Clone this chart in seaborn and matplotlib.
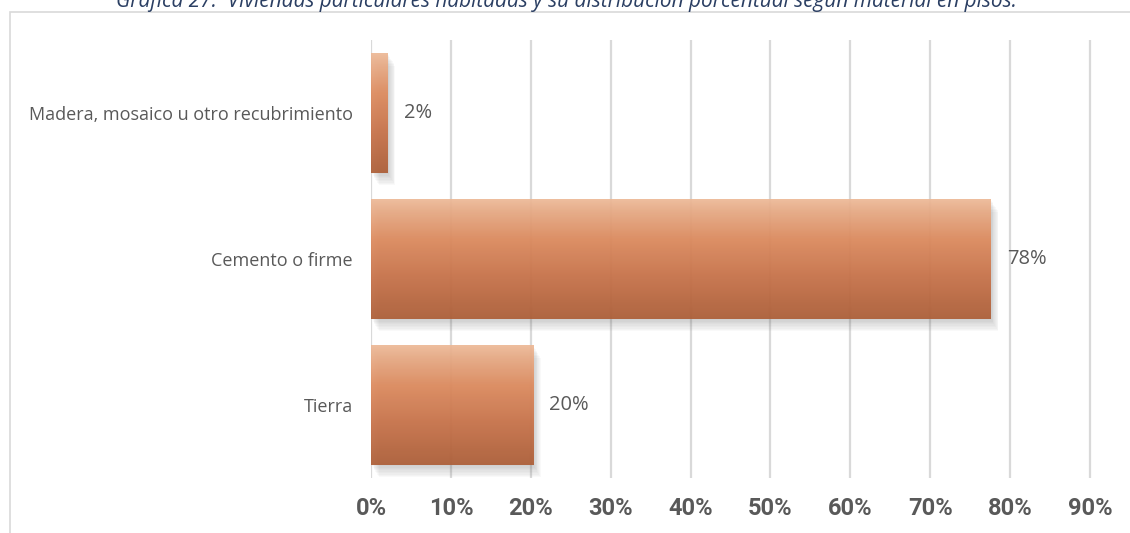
import numpy as np
import matplotlib
matplotlib.use("Agg")
import matplotlib.pyplot as plt
import matplotlib.patheffects as pe
from matplotlib.colors import LinearSegmentedColormap
from matplotlib.patches import Rectangle
import seaborn as sns
import pandas as pd

categories = ["Madera, mosaico u otro recubrimiento", "Cemento o firme", "Tierra"]
values = [2.1, 77.6, 20.3]
xticks = [0, 10, 20, 30, 40, 50, 60, 70, 80, 90]
xtick_labels = [f"{t}%" for t in xticks]
title = "Gráfica 27.  Viviendas particulares habitadas y su distribución porcentual según material en pisos."

sns.set_theme(style="white")
plt.rcParams['font.family'] = ['Open Sans', 'DejaVu Sans']

W, H = 1130, 533
fig = plt.figure(figsize=(W / 100, H / 100), dpi=100)
fig.patch.set_facecolor("white")

# outer frame
fig.add_artist(Rectangle((10 / W, -0.05), 1.2, 1 - 12 / H + 0.05, transform=fig.transFigure,
                         fill=False, edgecolor="#d9d9d9", linewidth=1.2))

fig.text(566 / W, 1 - 7 / H, title, ha="center", va="baseline", style="italic",
         fontsize=15, color="#2b3f63", fontfamily="Open Sans")

ax = fig.add_axes([371 / W, (H - 478) / H, (W - 371) / W, (478 - 40) / H])
df = pd.DataFrame({"cat": categories, "val": values})
sns.barplot(data=df, x="val", y="cat", orient="h", ax=ax, width=0.82,
            color="#dc8a5c", zorder=3)

ax.set_xlim(0, 95)
ax.set_ylim(2.5, -0.5)
ax.set_xticks(xticks)
ax.set_xticklabels(xtick_labels, fontsize=17, fontweight="bold", color="#595959",
                   fontfamily="Roboto")
ax.tick_params(axis="x", length=0, pad=14)
ax.tick_params(axis="y", length=0, pad=13, labelsize=13, labelcolor="#595959")
ax.set_xlabel("")
ax.set_ylabel("")
for s in ax.spines.values():
    s.set_visible(False)
ax.grid(axis="x", color="#d9d9d9", linewidth=1.6, zorder=0)
ax.set_axisbelow(True)

cmap = LinearSegmentedColormap.from_list("g", ["#edb997", "#de8b5e", "#c77148", "#ad5e37"])
grad = np.linspace(0, 1, 256).reshape(-1, 1)
shadow = [pe.SimplePatchShadow(offset=(o * 0.6, -o), shadow_rgbFace="#7a7a7a", alpha=0.045)
          for o in range(1, 10)]
for bar, v in zip(ax.patches, values):
    x0, y0 = bar.get_x(), bar.get_y()
    w, h = bar.get_width(), bar.get_height()
    bar.set_facecolor("none")
    bar.set_edgecolor("none")
    bar.set_path_effects(shadow + [pe.Normal()])
    im = ax.imshow(grad, cmap=cmap, aspect="auto", extent=[x0, x0 + w, y0 + h, y0],
                   zorder=4, alpha=0.93, interpolation="bilinear")
    im.set_clip_path(bar)
    ax.text(x0 + w + 2.0, y0 + h / 2, f"{v:.0f}%", va="center", ha="left",
            fontsize=14.5, color="#595959")

ax.set_xlim(0, 95)
ax.set_ylim(2.5, -0.5)
fig.savefig("out.png", dpi=100)
